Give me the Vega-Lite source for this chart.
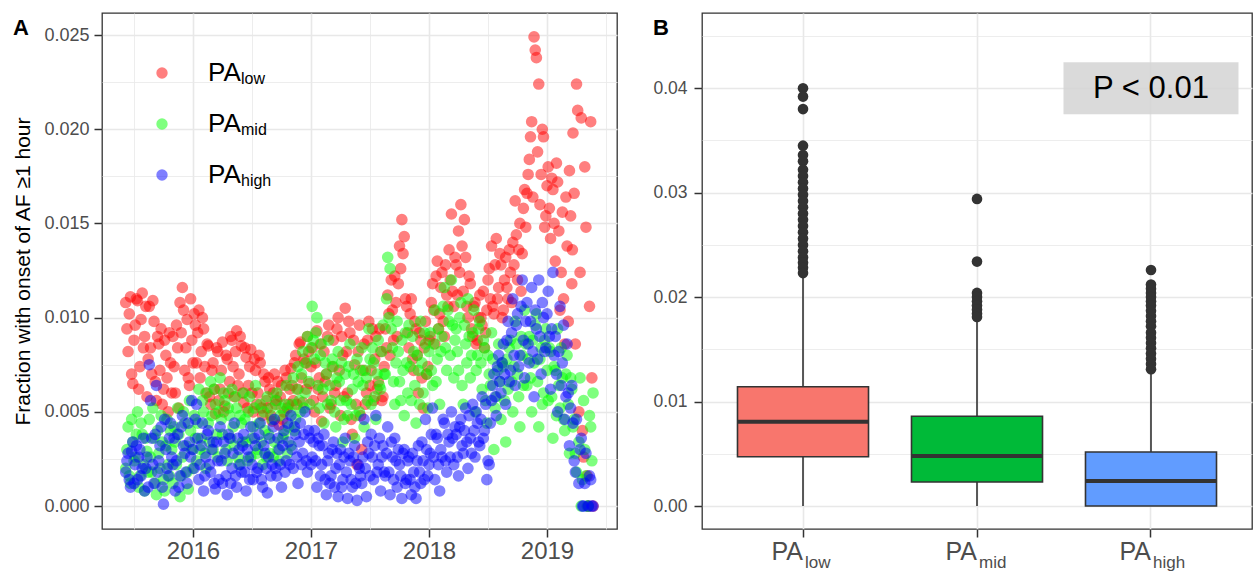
{
"$schema": "https://vega.github.io/schema/vega-lite/v6.json",
"padding": {"left": 12, "top": 12, "right": 0, "bottom": 0},
"config": {
  "font": "Liberation Sans",
  "view": {"stroke": "#333333", "strokeWidth": 1.3},
  "axis": {"domain": false, "tickColor": "#333333", "tickWidth": 1.5, "tickSize": 8, "labelColor": "#4d4d4d", "titleColor": "#000000", "titleFontWeight": "normal", "gridColor": "#e8e8e8", "labelOverlap": false, "labelFlush": false, "labelBound": false},
  "title": {"fontWeight": "bold", "fontSize": 22, "anchor": "start", "frame": "bounds", "offset": -27, "baseline": "alphabetic", "color": "#000000"}
},
"spacing": 34,
"resolve": {"scale": {"color": "independent", "shape": "independent"}, "legend": {"color": "independent", "shape": "independent"}},
"datasets": {
"scatter": [
{"t":2015.43,"s":"low","v":0.0108},{"t":2015.45,"s":"low","v":0.0082},{"t":2015.47,"s":"low","v":0.0111},{"t":2015.49,"s":"low","v":0.0065},{"t":2015.51,"s":"low","v":0.0096},{"t":2015.53,"s":"low","v":0.0109},{"t":2015.55,"s":"low","v":0.0074},{"t":2015.57,"s":"low","v":0.0113},{"t":2015.59,"s":"low","v":0.0090},{"t":2015.61,"s":"low","v":0.0058},
{"t":2015.63,"s":"low","v":0.0106},{"t":2015.65,"s":"low","v":0.0070},{"t":2015.67,"s":"low","v":0.0098},{"t":2015.69,"s":"low","v":0.0056},{"t":2015.71,"s":"low","v":0.0086},{"t":2015.73,"s":"low","v":0.0094},{"t":2015.75,"s":"low","v":0.0062},{"t":2015.77,"s":"low","v":0.0080},{"t":2015.79,"s":"low","v":0.0050},{"t":2015.81,"s":"low","v":0.0076},
{"t":2015.83,"s":"low","v":0.0090},{"t":2015.85,"s":"low","v":0.0060},{"t":2015.87,"s":"low","v":0.0084},{"t":2015.89,"s":"low","v":0.0108},{"t":2015.91,"s":"low","v":0.0116},{"t":2015.93,"s":"low","v":0.0072},{"t":2015.95,"s":"low","v":0.0099},{"t":2015.97,"s":"low","v":0.0064},{"t":2015.99,"s":"low","v":0.0088},{"t":2016.01,"s":"low","v":0.0102},
{"t":2016.03,"s":"low","v":0.0076},{"t":2016.05,"s":"low","v":0.0104},{"t":2016.07,"s":"low","v":0.0082},{"t":2016.09,"s":"low","v":0.0094},{"t":2016.11,"s":"low","v":0.0060},{"t":2016.13,"s":"low","v":0.0085},{"t":2016.15,"s":"low","v":0.0054},{"t":2016.17,"s":"low","v":0.0076},{"t":2016.19,"s":"low","v":0.0049},{"t":2016.21,"s":"low","v":0.0082},
{"t":2016.23,"s":"low","v":0.0062},{"t":2016.25,"s":"low","v":0.0087},{"t":2016.27,"s":"low","v":0.0053},{"t":2016.29,"s":"low","v":0.0078},{"t":2016.31,"s":"low","v":0.0066},{"t":2016.33,"s":"low","v":0.0088},{"t":2016.35,"s":"low","v":0.0058},{"t":2016.37,"s":"low","v":0.0093},{"t":2016.39,"s":"low","v":0.0070},{"t":2016.41,"s":"low","v":0.0085},
{"t":2016.43,"s":"low","v":0.0055},{"t":2016.45,"s":"low","v":0.0079},{"t":2016.47,"s":"low","v":0.0064},{"t":2016.49,"s":"low","v":0.0083},{"t":2016.51,"s":"low","v":0.0050},{"t":2016.53,"s":"low","v":0.0072},{"t":2016.55,"s":"low","v":0.0060},{"t":2016.57,"s":"low","v":0.0076},{"t":2016.59,"s":"low","v":0.0048},{"t":2016.61,"s":"low","v":0.0066},
{"t":2016.63,"s":"low","v":0.0052},{"t":2016.65,"s":"low","v":0.0062},{"t":2016.67,"s":"low","v":0.0045},{"t":2016.69,"s":"low","v":0.0070},{"t":2016.71,"s":"low","v":0.0056},{"t":2016.73,"s":"low","v":0.0043},{"t":2016.75,"s":"low","v":0.0064},{"t":2016.77,"s":"low","v":0.0050},{"t":2016.79,"s":"low","v":0.0068},{"t":2016.81,"s":"low","v":0.0054},
{"t":2016.83,"s":"low","v":0.0073},{"t":2016.85,"s":"low","v":0.0056},{"t":2016.87,"s":"low","v":0.0080},{"t":2016.89,"s":"low","v":0.0062},{"t":2016.91,"s":"low","v":0.0087},{"t":2016.93,"s":"low","v":0.0055},{"t":2016.95,"s":"low","v":0.0076},{"t":2016.97,"s":"low","v":0.0090},{"t":2016.99,"s":"low","v":0.0065},{"t":2017.01,"s":"low","v":0.0084},
{"t":2017.03,"s":"low","v":0.0050},{"t":2017.05,"s":"low","v":0.0093},{"t":2017.07,"s":"low","v":0.0068},{"t":2017.09,"s":"low","v":0.0045},{"t":2017.11,"s":"low","v":0.0082},{"t":2017.13,"s":"low","v":0.0070},{"t":2017.15,"s":"low","v":0.0096},{"t":2017.17,"s":"low","v":0.0054},{"t":2017.19,"s":"low","v":0.0088},{"t":2017.21,"s":"low","v":0.0064},
{"t":2017.23,"s":"low","v":0.0100},{"t":2017.25,"s":"low","v":0.0048},{"t":2017.27,"s":"low","v":0.0080},{"t":2017.29,"s":"low","v":0.0105},{"t":2017.31,"s":"low","v":0.0060},{"t":2017.33,"s":"low","v":0.0092},{"t":2017.35,"s":"low","v":0.0038},{"t":2017.37,"s":"low","v":0.0075},{"t":2017.39,"s":"low","v":0.0022},{"t":2017.41,"s":"low","v":0.0096},
{"t":2017.43,"s":"low","v":0.0030},{"t":2017.45,"s":"low","v":0.0086},{"t":2017.47,"s":"low","v":0.0060},{"t":2017.49,"s":"low","v":0.0098},{"t":2017.51,"s":"low","v":0.0072},{"t":2017.53,"s":"low","v":0.0056},{"t":2017.55,"s":"low","v":0.0090},{"t":2017.57,"s":"low","v":0.0066},{"t":2017.59,"s":"low","v":0.0082},{"t":2017.61,"s":"low","v":0.0058},
{"t":2017.63,"s":"low","v":0.0094},{"t":2017.65,"s":"low","v":0.0112},{"t":2017.67,"s":"low","v":0.0080},{"t":2017.69,"s":"low","v":0.0104},{"t":2017.71,"s":"low","v":0.0122},{"t":2017.73,"s":"low","v":0.0090},{"t":2017.75,"s":"low","v":0.0138},{"t":2017.77,"s":"low","v":0.0152},{"t":2017.79,"s":"low","v":0.0143},{"t":2017.81,"s":"low","v":0.0106},
{"t":2017.83,"s":"low","v":0.0084},{"t":2017.85,"s":"low","v":0.0110},{"t":2017.87,"s":"low","v":0.0072},{"t":2017.89,"s":"low","v":0.0094},{"t":2017.91,"s":"low","v":0.0060},{"t":2017.93,"s":"low","v":0.0088},{"t":2017.95,"s":"low","v":0.0052},{"t":2017.97,"s":"low","v":0.0098},{"t":2017.99,"s":"low","v":0.0074},{"t":2018.01,"s":"low","v":0.0090},
{"t":2018.03,"s":"low","v":0.0118},{"t":2018.05,"s":"low","v":0.0086},{"t":2018.07,"s":"low","v":0.0130},{"t":2018.09,"s":"low","v":0.0102},{"t":2018.11,"s":"low","v":0.0124},{"t":2018.13,"s":"low","v":0.0090},{"t":2018.15,"s":"low","v":0.0112},{"t":2018.17,"s":"low","v":0.0136},{"t":2018.19,"s":"low","v":0.0155},{"t":2018.21,"s":"low","v":0.0106},
{"t":2018.23,"s":"low","v":0.0128},{"t":2018.25,"s":"low","v":0.0146},{"t":2018.27,"s":"low","v":0.0160},{"t":2018.29,"s":"low","v":0.0114},{"t":2018.31,"s":"low","v":0.0132},{"t":2018.33,"s":"low","v":0.0100},{"t":2018.35,"s":"low","v":0.0118},{"t":2018.37,"s":"low","v":0.0090},{"t":2018.39,"s":"low","v":0.0108},{"t":2018.41,"s":"low","v":0.0088},
{"t":2018.43,"s":"low","v":0.0112},{"t":2018.45,"s":"low","v":0.0096},{"t":2018.47,"s":"low","v":0.0084},{"t":2018.49,"s":"low","v":0.0104},{"t":2018.51,"s":"low","v":0.0126},{"t":2018.53,"s":"low","v":0.0138},{"t":2018.55,"s":"low","v":0.0102},{"t":2018.57,"s":"low","v":0.0142},{"t":2018.59,"s":"low","v":0.0116},{"t":2018.61,"s":"low","v":0.0128},
{"t":2018.63,"s":"low","v":0.0104},{"t":2018.65,"s":"low","v":0.0132},{"t":2018.67,"s":"low","v":0.0110},{"t":2018.69,"s":"low","v":0.0124},{"t":2018.71,"s":"low","v":0.0140},{"t":2018.73,"s":"low","v":0.0162},{"t":2018.75,"s":"low","v":0.0120},{"t":2018.77,"s":"low","v":0.0150},{"t":2018.79,"s":"low","v":0.0134},{"t":2018.81,"s":"low","v":0.0168},
{"t":2018.83,"s":"low","v":0.0166},{"t":2018.85,"s":"low","v":0.0184},{"t":2018.87,"s":"low","v":0.0204},{"t":2018.89,"s":"low","v":0.0249},{"t":2018.90,"s":"low","v":0.0242},{"t":2018.91,"s":"low","v":0.0238},{"t":2018.93,"s":"low","v":0.0224},{"t":2018.95,"s":"low","v":0.0176},{"t":2018.97,"s":"low","v":0.0196},{"t":2018.99,"s":"low","v":0.0154},{"t":2019.01,"s":"low","v":0.0180},
{"t":2019.03,"s":"low","v":0.0142},{"t":2019.05,"s":"low","v":0.0168},{"t":2019.07,"s":"low","v":0.0130},{"t":2019.09,"s":"low","v":0.0172},{"t":2019.11,"s":"low","v":0.0104},{"t":2019.13,"s":"low","v":0.0156},{"t":2019.15,"s":"low","v":0.0086},{"t":2019.17,"s":"low","v":0.0138},{"t":2019.19,"s":"low","v":0.0178},{"t":2019.21,"s":"low","v":0.0118},
{"t":2019.22,"s":"low","v":0.0198},{"t":2019.23,"s":"low","v":0.0166},{"t":2019.24,"s":"low","v":0.0086},{"t":2019.25,"s":"low","v":0.0224},{"t":2019.26,"s":"low","v":0.0210},{"t":2019.27,"s":"low","v":0.0050},{"t":2019.28,"s":"low","v":0.0124},{"t":2019.29,"s":"low","v":0.0206},{"t":2019.30,"s":"low","v":0.0040},{"t":2019.31,"s":"low","v":0.0026},{"t":2019.32,"s":"low","v":0.0180},{"t":2019.33,"s":"low","v":0.0148},{"t":2019.34,"s":"low","v":0.0016},{"t":2019.35,"s":"low","v":0.0},{"t":2019.36,"s":"low","v":0.0106},{"t":2019.37,"s":"low","v":0.0204},{"t":2019.38,"s":"low","v":0.0068},{"t":2019.39,"s":"low","v":0.0},
{"t":2015.44,"s":"low","v":0.0094},{"t":2015.46,"s":"low","v":0.0102},{"t":2015.48,"s":"low","v":0.0070},{"t":2015.50,"s":"low","v":0.0088},{"t":2015.52,"s":"low","v":0.0110},{"t":2015.54,"s":"low","v":0.0062},{"t":2015.56,"s":"low","v":0.0099},{"t":2015.58,"s":"low","v":0.0084},{"t":2015.60,"s":"low","v":0.0106},{"t":2015.62,"s":"low","v":0.0078},
{"t":2015.64,"s":"low","v":0.0084},{"t":2015.66,"s":"low","v":0.0109},{"t":2015.68,"s":"low","v":0.0066},{"t":2015.70,"s":"low","v":0.0090},{"t":2015.72,"s":"low","v":0.0072},{"t":2015.74,"s":"low","v":0.0054},{"t":2015.76,"s":"low","v":0.0088},{"t":2015.78,"s":"low","v":0.0068},{"t":2015.80,"s":"low","v":0.0092},{"t":2015.82,"s":"low","v":0.0060},
{"t":2015.84,"s":"low","v":0.0074},{"t":2015.86,"s":"low","v":0.0096},{"t":2015.88,"s":"low","v":0.0052},{"t":2015.90,"s":"low","v":0.0092},{"t":2015.92,"s":"low","v":0.0104},{"t":2015.94,"s":"low","v":0.0084},{"t":2015.96,"s":"low","v":0.0068},{"t":2015.98,"s":"low","v":0.0110},{"t":2016.00,"s":"low","v":0.0076},{"t":2016.02,"s":"low","v":0.0096},
{"t":2016.04,"s":"low","v":0.0092},{"t":2016.06,"s":"low","v":0.0068},{"t":2016.08,"s":"low","v":0.0100},{"t":2016.10,"s":"low","v":0.0074},{"t":2016.12,"s":"low","v":0.0086},{"t":2016.14,"s":"low","v":0.0058},{"t":2016.16,"s":"low","v":0.0072},{"t":2016.18,"s":"low","v":0.0062},{"t":2016.20,"s":"low","v":0.0084},{"t":2016.22,"s":"low","v":0.0056},
{"t":2016.24,"s":"low","v":0.0072},{"t":2016.26,"s":"low","v":0.0050},{"t":2016.28,"s":"low","v":0.0080},{"t":2016.30,"s":"low","v":0.0060},{"t":2016.32,"s":"low","v":0.0090},{"t":2016.34,"s":"low","v":0.0074},{"t":2016.36,"s":"low","v":0.0082},{"t":2016.38,"s":"low","v":0.0064},{"t":2016.40,"s":"low","v":0.0090},{"t":2016.42,"s":"low","v":0.0060},
{"t":2016.44,"s":"low","v":0.0084},{"t":2016.46,"s":"low","v":0.0052},{"t":2016.48,"s":"low","v":0.0074},{"t":2016.50,"s":"low","v":0.0060},{"t":2016.52,"s":"low","v":0.0078},{"t":2016.54,"s":"low","v":0.0054},{"t":2016.56,"s":"low","v":0.0080},{"t":2016.58,"s":"low","v":0.0052},{"t":2016.60,"s":"low","v":0.0070},{"t":2016.62,"s":"low","v":0.0056},
{"t":2016.64,"s":"low","v":0.0068},{"t":2016.66,"s":"low","v":0.0048},{"t":2016.68,"s":"low","v":0.0060},{"t":2016.70,"s":"low","v":0.0054},{"t":2016.72,"s":"low","v":0.0066},{"t":2016.74,"s":"low","v":0.0058},{"t":2016.76,"s":"low","v":0.0046},{"t":2016.78,"s":"low","v":0.0072},{"t":2016.80,"s":"low","v":0.0052},{"t":2016.82,"s":"low","v":0.0062},
{"t":2016.84,"s":"low","v":0.0064},{"t":2016.86,"s":"low","v":0.0076},{"t":2016.88,"s":"low","v":0.0054},{"t":2016.90,"s":"low","v":0.0086},{"t":2016.92,"s":"low","v":0.0068},{"t":2016.94,"s":"low","v":0.0078},{"t":2016.96,"s":"low","v":0.0062},{"t":2016.98,"s":"low","v":0.0082},{"t":2017.00,"s":"low","v":0.0074},{"t":2017.02,"s":"low","v":0.0056},
{"t":2017.04,"s":"low","v":0.0076},{"t":2017.06,"s":"low","v":0.0062},{"t":2017.08,"s":"low","v":0.0086},{"t":2017.10,"s":"low","v":0.0058},{"t":2017.12,"s":"low","v":0.0066},{"t":2017.14,"s":"low","v":0.0090},{"t":2017.16,"s":"low","v":0.0052},{"t":2017.18,"s":"low","v":0.0074},{"t":2017.20,"s":"low","v":0.0060},{"t":2017.22,"s":"low","v":0.0094},
{"t":2017.24,"s":"low","v":0.0072},{"t":2017.26,"s":"low","v":0.0090},{"t":2017.28,"s":"low","v":0.0058},{"t":2017.30,"s":"low","v":0.0082},{"t":2017.32,"s":"low","v":0.0098},{"t":2017.34,"s":"low","v":0.0046},{"t":2017.36,"s":"low","v":0.0088},{"t":2017.38,"s":"low","v":0.0054},{"t":2017.40,"s":"low","v":0.0082},{"t":2017.42,"s":"low","v":0.0048},
{"t":2017.44,"s":"low","v":0.0072},{"t":2017.46,"s":"low","v":0.0054},{"t":2017.48,"s":"low","v":0.0088},{"t":2017.50,"s":"low","v":0.0064},{"t":2017.52,"s":"low","v":0.0094},{"t":2017.54,"s":"low","v":0.0078},{"t":2017.56,"s":"low","v":0.0062},{"t":2017.58,"s":"low","v":0.0094},{"t":2017.60,"s":"low","v":0.0056},{"t":2017.62,"s":"low","v":0.0074},
{"t":2017.64,"s":"low","v":0.0084},{"t":2017.66,"s":"low","v":0.0102},{"t":2017.68,"s":"low","v":0.0120},{"t":2017.70,"s":"low","v":0.0088},{"t":2017.72,"s":"low","v":0.0108},{"t":2017.74,"s":"low","v":0.0118},{"t":2017.76,"s":"low","v":0.0126},{"t":2017.78,"s":"low","v":0.0134},{"t":2017.80,"s":"low","v":0.0110},{"t":2017.82,"s":"low","v":0.0092},
{"t":2017.84,"s":"low","v":0.0102},{"t":2017.86,"s":"low","v":0.0078},{"t":2017.88,"s":"low","v":0.0098},{"t":2017.90,"s":"low","v":0.0080},{"t":2017.92,"s":"low","v":0.0092},{"t":2017.94,"s":"low","v":0.0068},{"t":2017.96,"s":"low","v":0.0084},{"t":2017.98,"s":"low","v":0.0070},{"t":2018.00,"s":"low","v":0.0088},{"t":2018.02,"s":"low","v":0.0108},
{"t":2018.04,"s":"low","v":0.0104},{"t":2018.06,"s":"low","v":0.0122},{"t":2018.08,"s":"low","v":0.0094},{"t":2018.10,"s":"low","v":0.0116},{"t":2018.12,"s":"low","v":0.0098},{"t":2018.14,"s":"low","v":0.0128},{"t":2018.16,"s":"low","v":0.0106},{"t":2018.18,"s":"low","v":0.0120},{"t":2018.20,"s":"low","v":0.0114},{"t":2018.22,"s":"low","v":0.0132},
{"t":2018.24,"s":"low","v":0.0112},{"t":2018.26,"s":"low","v":0.0124},{"t":2018.28,"s":"low","v":0.0138},{"t":2018.30,"s":"low","v":0.0152},{"t":2018.32,"s":"low","v":0.0106},{"t":2018.34,"s":"low","v":0.0122},{"t":2018.36,"s":"low","v":0.0094},{"t":2018.38,"s":"low","v":0.0106},{"t":2018.40,"s":"low","v":0.0086},{"t":2018.42,"s":"low","v":0.0100},
{"t":2018.44,"s":"low","v":0.0100},{"t":2018.46,"s":"low","v":0.0114},{"t":2018.48,"s":"low","v":0.0092},{"t":2018.50,"s":"low","v":0.0120},{"t":2018.52,"s":"low","v":0.0110},{"t":2018.54,"s":"low","v":0.0106},{"t":2018.56,"s":"low","v":0.0128},{"t":2018.58,"s":"low","v":0.0110},{"t":2018.60,"s":"low","v":0.0134},{"t":2018.62,"s":"low","v":0.0100},
{"t":2018.64,"s":"low","v":0.0120},{"t":2018.66,"s":"low","v":0.0116},{"t":2018.68,"s":"low","v":0.0136},{"t":2018.70,"s":"low","v":0.0108},{"t":2018.72,"s":"low","v":0.0128},{"t":2018.74,"s":"low","v":0.0144},{"t":2018.76,"s":"low","v":0.0136},{"t":2018.78,"s":"low","v":0.0114},{"t":2018.80,"s":"low","v":0.0158},{"t":2018.82,"s":"low","v":0.0148},
{"t":2018.84,"s":"low","v":0.0176},{"t":2018.86,"s":"low","v":0.0196},{"t":2018.88,"s":"low","v":0.0164},{"t":2018.92,"s":"low","v":0.0188},{"t":2018.94,"s":"low","v":0.0160},{"t":2018.96,"s":"low","v":0.0200},{"t":2018.98,"s":"low","v":0.0148},{"t":2019.00,"s":"low","v":0.0170},{"t":2019.02,"s":"low","v":0.0158},
{"t":2019.04,"s":"low","v":0.0174},{"t":2019.06,"s":"low","v":0.0150},{"t":2019.08,"s":"low","v":0.0182},{"t":2019.10,"s":"low","v":0.0146},{"t":2019.12,"s":"low","v":0.0124},{"t":2019.14,"s":"low","v":0.0110},{"t":2019.16,"s":"low","v":0.0164},{"t":2019.18,"s":"low","v":0.0098},{"t":2019.20,"s":"low","v":0.0154},{"t":2019.215,"s":"low","v":0.0136},
{"t":2015.43,"s":"mid","v":0.0020},{"t":2015.45,"s":"mid","v":0.0042},{"t":2015.47,"s":"mid","v":0.0012},{"t":2015.49,"s":"mid","v":0.0034},{"t":2015.51,"s":"mid","v":0.0026},{"t":2015.53,"s":"mid","v":0.0050},{"t":2015.55,"s":"mid","v":0.0016},{"t":2015.57,"s":"mid","v":0.0038},{"t":2015.59,"s":"mid","v":0.0008},{"t":2015.61,"s":"mid","v":0.0029},
{"t":2015.63,"s":"mid","v":0.0046},{"t":2015.65,"s":"mid","v":0.0018},{"t":2015.67,"s":"mid","v":0.0036},{"t":2015.69,"s":"mid","v":0.0006},{"t":2015.71,"s":"mid","v":0.0028},{"t":2015.73,"s":"mid","v":0.0048},{"t":2015.75,"s":"mid","v":0.0014},{"t":2015.77,"s":"mid","v":0.0032},{"t":2015.79,"s":"mid","v":0.0022},{"t":2015.81,"s":"mid","v":0.0040},
{"t":2015.83,"s":"mid","v":0.0012},{"t":2015.85,"s":"mid","v":0.0034},{"t":2015.87,"s":"mid","v":0.0052},{"t":2015.89,"s":"mid","v":0.0005},{"t":2015.91,"s":"mid","v":0.0026},{"t":2015.93,"s":"mid","v":0.0044},{"t":2015.95,"s":"mid","v":0.0018},{"t":2015.97,"s":"mid","v":0.0056},{"t":2015.99,"s":"mid","v":0.0030},{"t":2016.01,"s":"mid","v":0.0048},
{"t":2016.03,"s":"mid","v":0.0024},{"t":2016.05,"s":"mid","v":0.0062},{"t":2016.07,"s":"mid","v":0.0036},{"t":2016.09,"s":"mid","v":0.0050},{"t":2016.11,"s":"mid","v":0.0020},{"t":2016.13,"s":"mid","v":0.0044},{"t":2016.15,"s":"mid","v":0.0066},{"t":2016.17,"s":"mid","v":0.0030},{"t":2016.19,"s":"mid","v":0.0054},{"t":2016.21,"s":"mid","v":0.0026},
{"t":2016.23,"s":"mid","v":0.0068},{"t":2016.25,"s":"mid","v":0.0038},{"t":2016.27,"s":"mid","v":0.0056},{"t":2016.29,"s":"mid","v":0.0024},{"t":2016.31,"s":"mid","v":0.0048},{"t":2016.33,"s":"mid","v":0.0062},{"t":2016.35,"s":"mid","v":0.0032},{"t":2016.37,"s":"mid","v":0.0052},{"t":2016.39,"s":"mid","v":0.0022},{"t":2016.41,"s":"mid","v":0.0044},
{"t":2016.43,"s":"mid","v":0.0060},{"t":2016.45,"s":"mid","v":0.0034},{"t":2016.47,"s":"mid","v":0.0050},{"t":2016.49,"s":"mid","v":0.0026},{"t":2016.51,"s":"mid","v":0.0042},{"t":2016.53,"s":"mid","v":0.0064},{"t":2016.55,"s":"mid","v":0.0030},{"t":2016.57,"s":"mid","v":0.0054},{"t":2016.59,"s":"mid","v":0.0022},{"t":2016.61,"s":"mid","v":0.0040},
{"t":2016.63,"s":"mid","v":0.0058},{"t":2016.65,"s":"mid","v":0.0028},{"t":2016.67,"s":"mid","v":0.0046},{"t":2016.69,"s":"mid","v":0.0034},{"t":2016.71,"s":"mid","v":0.0060},{"t":2016.73,"s":"mid","v":0.0024},{"t":2016.75,"s":"mid","v":0.0052},{"t":2016.77,"s":"mid","v":0.0038},{"t":2016.79,"s":"mid","v":0.0064},{"t":2016.81,"s":"mid","v":0.0042},
{"t":2016.83,"s":"mid","v":0.0032},{"t":2016.85,"s":"mid","v":0.0068},{"t":2016.87,"s":"mid","v":0.0046},{"t":2016.89,"s":"mid","v":0.0074},{"t":2016.91,"s":"mid","v":0.0050},{"t":2016.93,"s":"mid","v":0.0082},{"t":2016.95,"s":"mid","v":0.0060},{"t":2016.97,"s":"mid","v":0.0090},{"t":2016.99,"s":"mid","v":0.0054},{"t":2017.01,"s":"mid","v":0.0106},
{"t":2017.03,"s":"mid","v":0.0078},{"t":2017.05,"s":"mid","v":0.0100},{"t":2017.07,"s":"mid","v":0.0052},{"t":2017.09,"s":"mid","v":0.0086},{"t":2017.11,"s":"mid","v":0.0044},{"t":2017.13,"s":"mid","v":0.0070},{"t":2017.15,"s":"mid","v":0.0088},{"t":2017.17,"s":"mid","v":0.0056},{"t":2017.19,"s":"mid","v":0.0074},{"t":2017.21,"s":"mid","v":0.0042},
{"t":2017.23,"s":"mid","v":0.0082},{"t":2017.25,"s":"mid","v":0.0056},{"t":2017.27,"s":"mid","v":0.0034},{"t":2017.29,"s":"mid","v":0.0070},{"t":2017.31,"s":"mid","v":0.0048},{"t":2017.33,"s":"mid","v":0.0086},{"t":2017.35,"s":"mid","v":0.0062},{"t":2017.37,"s":"mid","v":0.0036},{"t":2017.39,"s":"mid","v":0.0078},{"t":2017.41,"s":"mid","v":0.0050},
{"t":2017.43,"s":"mid","v":0.0084},{"t":2017.45,"s":"mid","v":0.0042},{"t":2017.47,"s":"mid","v":0.0068},{"t":2017.49,"s":"mid","v":0.0094},{"t":2017.51,"s":"mid","v":0.0054},{"t":2017.53,"s":"mid","v":0.0076},{"t":2017.55,"s":"mid","v":0.0046},{"t":2017.57,"s":"mid","v":0.0088},{"t":2017.59,"s":"mid","v":0.0062},{"t":2017.61,"s":"mid","v":0.0096},
{"t":2017.63,"s":"mid","v":0.0070},{"t":2017.65,"s":"mid","v":0.0132},{"t":2017.67,"s":"mid","v":0.0126},{"t":2017.69,"s":"mid","v":0.0084},{"t":2017.71,"s":"mid","v":0.0054},{"t":2017.73,"s":"mid","v":0.0098},{"t":2017.75,"s":"mid","v":0.0066},{"t":2017.77,"s":"mid","v":0.0088},{"t":2017.79,"s":"mid","v":0.0048},{"t":2017.81,"s":"mid","v":0.0076},
{"t":2017.83,"s":"mid","v":0.0096},{"t":2017.85,"s":"mid","v":0.0056},{"t":2017.87,"s":"mid","v":0.0082},{"t":2017.89,"s":"mid","v":0.0044},{"t":2017.91,"s":"mid","v":0.0072},{"t":2017.93,"s":"mid","v":0.0098},{"t":2017.95,"s":"mid","v":0.0060},{"t":2017.97,"s":"mid","v":0.0086},{"t":2017.99,"s":"mid","v":0.0052},{"t":2018.01,"s":"mid","v":0.0092},
{"t":2018.03,"s":"mid","v":0.0064},{"t":2018.05,"s":"mid","v":0.0104},{"t":2018.07,"s":"mid","v":0.0078},{"t":2018.09,"s":"mid","v":0.0054},{"t":2018.11,"s":"mid","v":0.0090},{"t":2018.13,"s":"mid","v":0.0116},{"t":2018.15,"s":"mid","v":0.0072},{"t":2018.17,"s":"mid","v":0.0098},{"t":2018.19,"s":"mid","v":0.0120},{"t":2018.21,"s":"mid","v":0.0068},
{"t":2018.23,"s":"mid","v":0.0094},{"t":2018.25,"s":"mid","v":0.0072},{"t":2018.27,"s":"mid","v":0.0108},{"t":2018.29,"s":"mid","v":0.0054},{"t":2018.31,"s":"mid","v":0.0086},{"t":2018.33,"s":"mid","v":0.0110},{"t":2018.35,"s":"mid","v":0.0068},{"t":2018.37,"s":"mid","v":0.0092},{"t":2018.39,"s":"mid","v":0.0050},{"t":2018.41,"s":"mid","v":0.0080},
{"t":2018.43,"s":"mid","v":0.0098},{"t":2018.45,"s":"mid","v":0.0062},{"t":2018.47,"s":"mid","v":0.0084},{"t":2018.49,"s":"mid","v":0.0044},{"t":2018.51,"s":"mid","v":0.0070},{"t":2018.53,"s":"mid","v":0.0092},{"t":2018.55,"s":"mid","v":0.0030},{"t":2018.57,"s":"mid","v":0.0058},{"t":2018.59,"s":"mid","v":0.0086},{"t":2018.61,"s":"mid","v":0.0046},
{"t":2018.63,"s":"mid","v":0.0074},{"t":2018.65,"s":"mid","v":0.0034},{"t":2018.67,"s":"mid","v":0.0062},{"t":2018.69,"s":"mid","v":0.0088},{"t":2018.71,"s":"mid","v":0.0050},{"t":2018.73,"s":"mid","v":0.0098},{"t":2018.75,"s":"mid","v":0.0070},{"t":2018.77,"s":"mid","v":0.0042},{"t":2018.79,"s":"mid","v":0.0080},{"t":2018.81,"s":"mid","v":0.0104},
{"t":2018.83,"s":"mid","v":0.0064},{"t":2018.85,"s":"mid","v":0.0090},{"t":2018.87,"s":"mid","v":0.0050},{"t":2018.89,"s":"mid","v":0.0076},{"t":2018.91,"s":"mid","v":0.0102},{"t":2018.93,"s":"mid","v":0.0042},{"t":2018.95,"s":"mid","v":0.0084},{"t":2018.97,"s":"mid","v":0.0060},{"t":2018.99,"s":"mid","v":0.0094},{"t":2019.01,"s":"mid","v":0.0056},
{"t":2019.03,"s":"mid","v":0.0082},{"t":2019.05,"s":"mid","v":0.0036},{"t":2019.07,"s":"mid","v":0.0072},{"t":2019.09,"s":"mid","v":0.0094},{"t":2019.11,"s":"mid","v":0.0052},{"t":2019.13,"s":"mid","v":0.0068},{"t":2019.15,"s":"mid","v":0.0040},{"t":2019.17,"s":"mid","v":0.0080},{"t":2019.19,"s":"mid","v":0.0028},{"t":2019.21,"s":"mid","v":0.0062},
{"t":2019.23,"s":"mid","v":0.0046},{"t":2019.24,"s":"mid","v":0.0028},{"t":2019.25,"s":"mid","v":0.0018},{"t":2019.27,"s":"mid","v":0.0034},{"t":2019.28,"s":"mid","v":0.0068},{"t":2019.29,"s":"mid","v":0.0},{"t":2019.30,"s":"mid","v":0.0014},{"t":2019.31,"s":"mid","v":0.0056},{"t":2019.32,"s":"mid","v":0.0030},{"t":2019.33,"s":"mid","v":0.0016},{"t":2019.34,"s":"mid","v":0.0},{"t":2019.35,"s":"mid","v":0.0},{"t":2019.36,"s":"mid","v":0.0048},{"t":2019.37,"s":"mid","v":0.0042},{"t":2019.38,"s":"mid","v":0.0024},{"t":2019.39,"s":"mid","v":0.0060},
{"t":2015.44,"s":"mid","v":0.0030},{"t":2015.46,"s":"mid","v":0.0016},{"t":2015.48,"s":"mid","v":0.0046},{"t":2015.50,"s":"mid","v":0.0024},{"t":2015.52,"s":"mid","v":0.0038},{"t":2015.54,"s":"mid","v":0.0010},{"t":2015.56,"s":"mid","v":0.0044},{"t":2015.58,"s":"mid","v":0.0022},{"t":2015.60,"s":"mid","v":0.0036},{"t":2015.62,"s":"mid","v":0.0018},
{"t":2015.64,"s":"mid","v":0.0026},{"t":2015.66,"s":"mid","v":0.0052},{"t":2015.68,"s":"mid","v":0.0012},{"t":2015.70,"s":"mid","v":0.0040},{"t":2015.72,"s":"mid","v":0.0020},{"t":2015.74,"s":"mid","v":0.0034},{"t":2015.76,"s":"mid","v":0.0008},{"t":2015.78,"s":"mid","v":0.0046},{"t":2015.80,"s":"mid","v":0.0016},{"t":2015.82,"s":"mid","v":0.0030},
{"t":2015.84,"s":"mid","v":0.0042},{"t":2015.86,"s":"mid","v":0.0022},{"t":2015.88,"s":"mid","v":0.0038},{"t":2015.90,"s":"mid","v":0.0016},{"t":2015.92,"s":"mid","v":0.0050},{"t":2015.94,"s":"mid","v":0.0032},{"t":2015.96,"s":"mid","v":0.0009},{"t":2015.98,"s":"mid","v":0.0040},{"t":2016.00,"s":"mid","v":0.0020},{"t":2016.02,"s":"mid","v":0.0036},
{"t":2016.04,"s":"mid","v":0.0044},{"t":2016.06,"s":"mid","v":0.0030},{"t":2016.08,"s":"mid","v":0.0056},{"t":2016.10,"s":"mid","v":0.0028},{"t":2016.12,"s":"mid","v":0.0060},{"t":2016.14,"s":"mid","v":0.0034},{"t":2016.16,"s":"mid","v":0.0048},{"t":2016.18,"s":"mid","v":0.0062},{"t":2016.20,"s":"mid","v":0.0038},{"t":2016.22,"s":"mid","v":0.0050},
{"t":2016.24,"s":"mid","v":0.0046},{"t":2016.26,"s":"mid","v":0.0060},{"t":2016.28,"s":"mid","v":0.0030},{"t":2016.30,"s":"mid","v":0.0052},{"t":2016.32,"s":"mid","v":0.0036},{"t":2016.34,"s":"mid","v":0.0042},{"t":2016.36,"s":"mid","v":0.0058},{"t":2016.38,"s":"mid","v":0.0026},{"t":2016.40,"s":"mid","v":0.0048},{"t":2016.42,"s":"mid","v":0.0034},
{"t":2016.44,"s":"mid","v":0.0046},{"t":2016.46,"s":"mid","v":0.0024},{"t":2016.48,"s":"mid","v":0.0058},{"t":2016.50,"s":"mid","v":0.0036},{"t":2016.52,"s":"mid","v":0.0052},{"t":2016.54,"s":"mid","v":0.0028},{"t":2016.56,"s":"mid","v":0.0044},{"t":2016.58,"s":"mid","v":0.0034},{"t":2016.60,"s":"mid","v":0.0050},{"t":2016.62,"s":"mid","v":0.0026},
{"t":2016.64,"s":"mid","v":0.0038},{"t":2016.66,"s":"mid","v":0.0052},{"t":2016.68,"s":"mid","v":0.0026},{"t":2016.70,"s":"mid","v":0.0056},{"t":2016.72,"s":"mid","v":0.0030},{"t":2016.74,"s":"mid","v":0.0048},{"t":2016.76,"s":"mid","v":0.0036},{"t":2016.78,"s":"mid","v":0.0054},{"t":2016.80,"s":"mid","v":0.0028},{"t":2016.82,"s":"mid","v":0.0050},
{"t":2016.84,"s":"mid","v":0.0054},{"t":2016.86,"s":"mid","v":0.0040},{"t":2016.88,"s":"mid","v":0.0062},{"t":2016.90,"s":"mid","v":0.0056},{"t":2016.92,"s":"mid","v":0.0070},{"t":2016.94,"s":"mid","v":0.0052},{"t":2016.96,"s":"mid","v":0.0076},{"t":2016.98,"s":"mid","v":0.0066},{"t":2017.00,"s":"mid","v":0.0084},{"t":2017.02,"s":"mid","v":0.0088},
{"t":2017.04,"s":"mid","v":0.0092},{"t":2017.06,"s":"mid","v":0.0064},{"t":2017.08,"s":"mid","v":0.0080},{"t":2017.10,"s":"mid","v":0.0062},{"t":2017.12,"s":"mid","v":0.0076},{"t":2017.14,"s":"mid","v":0.0054},{"t":2017.16,"s":"mid","v":0.0064},{"t":2017.18,"s":"mid","v":0.0078},{"t":2017.20,"s":"mid","v":0.0050},{"t":2017.22,"s":"mid","v":0.0068},
{"t":2017.24,"s":"mid","v":0.0066},{"t":2017.26,"s":"mid","v":0.0076},{"t":2017.28,"s":"mid","v":0.0046},{"t":2017.30,"s":"mid","v":0.0056},{"t":2017.32,"s":"mid","v":0.0074},{"t":2017.34,"s":"mid","v":0.0054},{"t":2017.36,"s":"mid","v":0.0070},{"t":2017.38,"s":"mid","v":0.0048},{"t":2017.40,"s":"mid","v":0.0066},{"t":2017.42,"s":"mid","v":0.0072},
{"t":2017.44,"s":"mid","v":0.0064},{"t":2017.46,"s":"mid","v":0.0072},{"t":2017.48,"s":"mid","v":0.0056},{"t":2017.50,"s":"mid","v":0.0078},{"t":2017.52,"s":"mid","v":0.0084},{"t":2017.54,"s":"mid","v":0.0058},{"t":2017.56,"s":"mid","v":0.0070},{"t":2017.58,"s":"mid","v":0.0064},{"t":2017.60,"s":"mid","v":0.0082},{"t":2017.62,"s":"mid","v":0.0070},
{"t":2017.64,"s":"mid","v":0.0110},{"t":2017.66,"s":"mid","v":0.0100},{"t":2017.68,"s":"mid","v":0.0094},{"t":2017.70,"s":"mid","v":0.0066},{"t":2017.72,"s":"mid","v":0.0076},{"t":2017.74,"s":"mid","v":0.0082},{"t":2017.76,"s":"mid","v":0.0056},{"t":2017.78,"s":"mid","v":0.0072},{"t":2017.80,"s":"mid","v":0.0092},{"t":2017.82,"s":"mid","v":0.0060},
{"t":2017.84,"s":"mid","v":0.0074},{"t":2017.86,"s":"mid","v":0.0090},{"t":2017.88,"s":"mid","v":0.0064},{"t":2017.90,"s":"mid","v":0.0080},{"t":2017.92,"s":"mid","v":0.0054},{"t":2017.94,"s":"mid","v":0.0076},{"t":2017.96,"s":"mid","v":0.0092},{"t":2017.98,"s":"mid","v":0.0070},{"t":2018.00,"s":"mid","v":0.0082},{"t":2018.02,"s":"mid","v":0.0072},
{"t":2018.04,"s":"mid","v":0.0086},{"t":2018.06,"s":"mid","v":0.0066},{"t":2018.08,"s":"mid","v":0.0094},{"t":2018.10,"s":"mid","v":0.0082},{"t":2018.12,"s":"mid","v":0.0106},{"t":2018.14,"s":"mid","v":0.0084},{"t":2018.16,"s":"mid","v":0.0104},{"t":2018.18,"s":"mid","v":0.0080},{"t":2018.20,"s":"mid","v":0.0096},{"t":2018.22,"s":"mid","v":0.0088},
{"t":2018.24,"s":"mid","v":0.0082},{"t":2018.26,"s":"mid","v":0.0100},{"t":2018.28,"s":"mid","v":0.0064},{"t":2018.30,"s":"mid","v":0.0096},{"t":2018.32,"s":"mid","v":0.0076},{"t":2018.34,"s":"mid","v":0.0090},{"t":2018.36,"s":"mid","v":0.0080},{"t":2018.38,"s":"mid","v":0.0104},{"t":2018.40,"s":"mid","v":0.0072},{"t":2018.42,"s":"mid","v":0.0094},
{"t":2018.44,"s":"mid","v":0.0076},{"t":2018.46,"s":"mid","v":0.0088},{"t":2018.48,"s":"mid","v":0.0056},{"t":2018.50,"s":"mid","v":0.0080},{"t":2018.52,"s":"mid","v":0.0064},{"t":2018.54,"s":"mid","v":0.0078},{"t":2018.56,"s":"mid","v":0.0052},{"t":2018.58,"s":"mid","v":0.0072},{"t":2018.60,"s":"mid","v":0.0066},{"t":2018.62,"s":"mid","v":0.0076},
{"t":2018.64,"s":"mid","v":0.0056},{"t":2018.66,"s":"mid","v":0.0078},{"t":2018.68,"s":"mid","v":0.0084},{"t":2018.70,"s":"mid","v":0.0066},{"t":2018.72,"s":"mid","v":0.0074},{"t":2018.74,"s":"mid","v":0.0086},{"t":2018.76,"s":"mid","v":0.0058},{"t":2018.78,"s":"mid","v":0.0090},{"t":2018.80,"s":"mid","v":0.0064},{"t":2018.82,"s":"mid","v":0.0086},
{"t":2018.84,"s":"mid","v":0.0078},{"t":2018.86,"s":"mid","v":0.0068},{"t":2018.88,"s":"mid","v":0.0088},{"t":2018.90,"s":"mid","v":0.0096},{"t":2018.92,"s":"mid","v":0.0066},{"t":2018.94,"s":"mid","v":0.0078},{"t":2018.96,"s":"mid","v":0.0054},{"t":2018.98,"s":"mid","v":0.0088},{"t":2019.00,"s":"mid","v":0.0072},{"t":2019.02,"s":"mid","v":0.0084},
{"t":2019.04,"s":"mid","v":0.0058},{"t":2019.06,"s":"mid","v":0.0074},{"t":2019.08,"s":"mid","v":0.0048},{"t":2019.10,"s":"mid","v":0.0064},{"t":2019.12,"s":"mid","v":0.0084},{"t":2019.14,"s":"mid","v":0.0046},{"t":2019.16,"s":"mid","v":0.0070},{"t":2019.18,"s":"mid","v":0.0054},{"t":2019.20,"s":"mid","v":0.0068},{"t":2019.22,"s":"mid","v":0.0042},
{"t":2015.43,"s":"high","v":0.0018},{"t":2015.45,"s":"high","v":0.0028},{"t":2015.47,"s":"high","v":0.0010},{"t":2015.49,"s":"high","v":0.0034},{"t":2015.51,"s":"high","v":0.0022},{"t":2015.53,"s":"high","v":0.0014},{"t":2015.55,"s":"high","v":0.0030},{"t":2015.57,"s":"high","v":0.0020},{"t":2015.59,"s":"high","v":0.0008},{"t":2015.61,"s":"high","v":0.0026},
{"t":2015.63,"s":"high","v":0.0075},{"t":2015.65,"s":"high","v":0.0036},{"t":2015.67,"s":"high","v":0.0012},{"t":2015.69,"s":"high","v":0.0064},{"t":2015.71,"s":"high","v":0.0024},{"t":2015.73,"s":"high","v":0.0042},{"t":2015.75,"s":"high","v":0.0001},{"t":2015.77,"s":"high","v":0.0030},{"t":2015.79,"s":"high","v":0.0016},{"t":2015.81,"s":"high","v":0.0044},
{"t":2015.83,"s":"high","v":0.0022},{"t":2015.85,"s":"high","v":0.0008},{"t":2015.87,"s":"high","v":0.0038},{"t":2015.89,"s":"high","v":0.0016},{"t":2015.91,"s":"high","v":0.0048},{"t":2015.93,"s":"high","v":0.0028},{"t":2015.95,"s":"high","v":0.0012},{"t":2015.97,"s":"high","v":0.0034},{"t":2015.99,"s":"high","v":0.0056},{"t":2016.01,"s":"high","v":0.0020},
{"t":2016.03,"s":"high","v":0.0054},{"t":2016.05,"s":"high","v":0.0014},{"t":2016.07,"s":"high","v":0.0032},{"t":2016.09,"s":"high","v":0.0008},{"t":2016.11,"s":"high","v":0.0026},{"t":2016.13,"s":"high","v":0.0040},{"t":2016.15,"s":"high","v":0.0018},{"t":2016.17,"s":"high","v":0.0034},{"t":2016.19,"s":"high","v":0.0009},{"t":2016.21,"s":"high","v":0.0024},
{"t":2016.23,"s":"high","v":0.0042},{"t":2016.25,"s":"high","v":0.0012},{"t":2016.27,"s":"high","v":0.0028},{"t":2016.29,"s":"high","v":0.0006},{"t":2016.31,"s":"high","v":0.0036},{"t":2016.33,"s":"high","v":0.0020},{"t":2016.35,"s":"high","v":0.0044},{"t":2016.37,"s":"high","v":0.0010},{"t":2016.39,"s":"high","v":0.0030},{"t":2016.41,"s":"high","v":0.0018},
{"t":2016.43,"s":"high","v":0.0038},{"t":2016.45,"s":"high","v":0.0008},{"t":2016.47,"s":"high","v":0.0026},{"t":2016.49,"s":"high","v":0.0042},{"t":2016.51,"s":"high","v":0.0014},{"t":2016.53,"s":"high","v":0.0032},{"t":2016.55,"s":"high","v":0.0020},{"t":2016.57,"s":"high","v":0.0044},{"t":2016.59,"s":"high","v":0.0010},{"t":2016.61,"s":"high","v":0.0028},
{"t":2016.63,"s":"high","v":0.0007},{"t":2016.65,"s":"high","v":0.0036},{"t":2016.67,"s":"high","v":0.0022},{"t":2016.69,"s":"high","v":0.0046},{"t":2016.71,"s":"high","v":0.0016},{"t":2016.73,"s":"high","v":0.0030},{"t":2016.75,"s":"high","v":0.0010},{"t":2016.77,"s":"high","v":0.0040},{"t":2016.79,"s":"high","v":0.0024},{"t":2016.81,"s":"high","v":0.0034},
{"t":2016.83,"s":"high","v":0.0048},{"t":2016.85,"s":"high","v":0.0020},{"t":2016.87,"s":"high","v":0.0038},{"t":2016.89,"s":"high","v":0.0012},{"t":2016.91,"s":"high","v":0.0044},{"t":2016.93,"s":"high","v":0.0028},{"t":2016.95,"s":"high","v":0.0050},{"t":2016.97,"s":"high","v":0.0018},{"t":2016.99,"s":"high","v":0.0036},{"t":2017.01,"s":"high","v":0.0026},
{"t":2017.03,"s":"high","v":0.0040},{"t":2017.05,"s":"high","v":0.0010},{"t":2017.07,"s":"high","v":0.0032},{"t":2017.09,"s":"high","v":0.0022},{"t":2017.11,"s":"high","v":0.0038},{"t":2017.13,"s":"high","v":0.0006},{"t":2017.15,"s":"high","v":0.0028},{"t":2017.17,"s":"high","v":0.0016},{"t":2017.19,"s":"high","v":0.0034},{"t":2017.21,"s":"high","v":0.0020},
{"t":2017.23,"s":"high","v":0.0005},{"t":2017.25,"s":"high","v":0.0030},{"t":2017.27,"s":"high","v":0.0014},{"t":2017.29,"s":"high","v":0.0036},{"t":2017.31,"s":"high","v":0.0004},{"t":2017.33,"s":"high","v":0.0024},{"t":2017.35,"s":"high","v":0.0010},{"t":2017.37,"s":"high","v":0.0032},{"t":2017.39,"s":"high","v":0.0003},{"t":2017.41,"s":"high","v":0.0020},
{"t":2017.43,"s":"high","v":0.0012},{"t":2017.45,"s":"high","v":0.0046},{"t":2017.47,"s":"high","v":0.0005},{"t":2017.49,"s":"high","v":0.0028},{"t":2017.51,"s":"high","v":0.0038},{"t":2017.53,"s":"high","v":0.0014},{"t":2017.55,"s":"high","v":0.0048},{"t":2017.57,"s":"high","v":0.0022},{"t":2017.59,"s":"high","v":0.0008},{"t":2017.61,"s":"high","v":0.0032},
{"t":2017.63,"s":"high","v":0.0016},{"t":2017.65,"s":"high","v":0.0042},{"t":2017.67,"s":"high","v":0.0006},{"t":2017.69,"s":"high","v":0.0026},{"t":2017.71,"s":"high","v":0.0036},{"t":2017.73,"s":"high","v":0.0010},{"t":2017.75,"s":"high","v":0.0022},{"t":2017.77,"s":"high","v":0.0004},{"t":2017.79,"s":"high","v":0.0030},{"t":2017.81,"s":"high","v":0.0014},
{"t":2017.83,"s":"high","v":0.0026},{"t":2017.85,"s":"high","v":0.0006},{"t":2017.87,"s":"high","v":0.0018},{"t":2017.89,"s":"high","v":0.0004},{"t":2017.91,"s":"high","v":0.0032},{"t":2017.93,"s":"high","v":0.0012},{"t":2017.95,"s":"high","v":0.0024},{"t":2017.97,"s":"high","v":0.0046},{"t":2017.99,"s":"high","v":0.0016},{"t":2018.01,"s":"high","v":0.0028},
{"t":2018.03,"s":"high","v":0.0052},{"t":2018.05,"s":"high","v":0.0014},{"t":2018.07,"s":"high","v":0.0036},{"t":2018.09,"s":"high","v":0.0008},{"t":2018.11,"s":"high","v":0.0026},{"t":2018.13,"s":"high","v":0.0044},{"t":2018.15,"s":"high","v":0.0018},{"t":2018.17,"s":"high","v":0.0034},{"t":2018.19,"s":"high","v":0.0050},{"t":2018.21,"s":"high","v":0.0022},
{"t":2018.23,"s":"high","v":0.0038},{"t":2018.25,"s":"high","v":0.0016},{"t":2018.27,"s":"high","v":0.0046},{"t":2018.29,"s":"high","v":0.0028},{"t":2018.31,"s":"high","v":0.0052},{"t":2018.33,"s":"high","v":0.0020},{"t":2018.35,"s":"high","v":0.0036},{"t":2018.37,"s":"high","v":0.0054},{"t":2018.39,"s":"high","v":0.0026},{"t":2018.41,"s":"high","v":0.0044},
{"t":2018.43,"s":"high","v":0.0032},{"t":2018.45,"s":"high","v":0.0058},{"t":2018.47,"s":"high","v":0.0040},{"t":2018.49,"s":"high","v":0.0014},{"t":2018.51,"s":"high","v":0.0022},{"t":2018.53,"s":"high","v":0.0056},{"t":2018.55,"s":"high","v":0.0070},{"t":2018.57,"s":"high","v":0.0048},{"t":2018.59,"s":"high","v":0.0080},{"t":2018.61,"s":"high","v":0.0060},
{"t":2018.63,"s":"high","v":0.0086},{"t":2018.65,"s":"high","v":0.0054},{"t":2018.67,"s":"high","v":0.0098},{"t":2018.69,"s":"high","v":0.0072},{"t":2018.71,"s":"high","v":0.0110},{"t":2018.73,"s":"high","v":0.0064},{"t":2018.75,"s":"high","v":0.0102},{"t":2018.77,"s":"high","v":0.0080},{"t":2018.79,"s":"high","v":0.0120},{"t":2018.81,"s":"high","v":0.0068},
{"t":2018.83,"s":"high","v":0.0108},{"t":2018.85,"s":"high","v":0.0076},{"t":2018.87,"s":"high","v":0.0116},{"t":2018.89,"s":"high","v":0.0058},{"t":2018.91,"s":"high","v":0.0094},{"t":2018.93,"s":"high","v":0.0120},{"t":2018.95,"s":"high","v":0.0070},{"t":2018.97,"s":"high","v":0.0100},{"t":2018.99,"s":"high","v":0.0084},{"t":2019.01,"s":"high","v":0.0114},
{"t":2019.03,"s":"high","v":0.0062},{"t":2019.05,"s":"high","v":0.0124},{"t":2019.07,"s":"high","v":0.0090},{"t":2019.09,"s":"high","v":0.0050},{"t":2019.11,"s":"high","v":0.0106},{"t":2019.13,"s":"high","v":0.0076},{"t":2019.15,"s":"high","v":0.0046},{"t":2019.17,"s":"high","v":0.0086},{"t":2019.19,"s":"high","v":0.0032},{"t":2019.21,"s":"high","v":0.0064},
{"t":2019.23,"s":"high","v":0.0024},{"t":2019.24,"s":"high","v":0.0018},{"t":2019.25,"s":"high","v":0.0046},{"t":2019.27,"s":"high","v":0.0012},{"t":2019.28,"s":"high","v":0.0030},{"t":2019.29,"s":"high","v":0.0036},{"t":2019.30,"s":"high","v":0.0},{"t":2019.31,"s":"high","v":0.0},{"t":2019.32,"s":"high","v":0.0012},{"t":2019.33,"s":"high","v":0.0028},{"t":2019.35,"s":"high","v":0.0},{"t":2019.36,"s":"high","v":0.0016},{"t":2019.37,"s":"high","v":0.0014},{"t":2019.38,"s":"high","v":0.0},{"t":2019.39,"s":"high","v":0.0},
{"t":2015.44,"s":"high","v":0.0024},{"t":2015.46,"s":"high","v":0.0014},{"t":2015.48,"s":"high","v":0.0029},{"t":2015.50,"s":"high","v":0.0012},{"t":2015.52,"s":"high","v":0.0032},{"t":2015.54,"s":"high","v":0.0026},{"t":2015.56,"s":"high","v":0.0016},{"t":2015.58,"s":"high","v":0.0036},{"t":2015.60,"s":"high","v":0.0020},{"t":2015.62,"s":"high","v":0.0010},
{"t":2015.64,"s":"high","v":0.0056},{"t":2015.66,"s":"high","v":0.0022},{"t":2015.68,"s":"high","v":0.0038},{"t":2015.70,"s":"high","v":0.0018},{"t":2015.72,"s":"high","v":0.0032},{"t":2015.74,"s":"high","v":0.0010},{"t":2015.76,"s":"high","v":0.0046},{"t":2015.78,"s":"high","v":0.0020},{"t":2015.80,"s":"high","v":0.0036},{"t":2015.82,"s":"high","v":0.0026},
{"t":2015.84,"s":"high","v":0.0036},{"t":2015.86,"s":"high","v":0.0024},{"t":2015.88,"s":"high","v":0.0010},{"t":2015.90,"s":"high","v":0.0042},{"t":2015.92,"s":"high","v":0.0032},{"t":2015.94,"s":"high","v":0.0018},{"t":2015.96,"s":"high","v":0.0044},{"t":2015.98,"s":"high","v":0.0026},{"t":2016.00,"s":"high","v":0.0030},{"t":2016.02,"s":"high","v":0.0046},
{"t":2016.04,"s":"high","v":0.0036},{"t":2016.06,"s":"high","v":0.0022},{"t":2016.08,"s":"high","v":0.0044},{"t":2016.10,"s":"high","v":0.0016},{"t":2016.12,"s":"high","v":0.0038},{"t":2016.14,"s":"high","v":0.0022},{"t":2016.16,"s":"high","v":0.0030},{"t":2016.18,"s":"high","v":0.0012},{"t":2016.20,"s":"high","v":0.0034},{"t":2016.22,"s":"high","v":0.0014},
{"t":2016.24,"s":"high","v":0.0024},{"t":2016.26,"s":"high","v":0.0034},{"t":2016.28,"s":"high","v":0.0016},{"t":2016.30,"s":"high","v":0.0038},{"t":2016.32,"s":"high","v":0.0012},{"t":2016.34,"s":"high","v":0.0028},{"t":2016.36,"s":"high","v":0.0016},{"t":2016.38,"s":"high","v":0.0036},{"t":2016.40,"s":"high","v":0.0022},{"t":2016.42,"s":"high","v":0.0032},
{"t":2016.44,"s":"high","v":0.0018},{"t":2016.46,"s":"high","v":0.0030},{"t":2016.48,"s":"high","v":0.0014},{"t":2016.50,"s":"high","v":0.0022},{"t":2016.52,"s":"high","v":0.0036},{"t":2016.54,"s":"high","v":0.0018},{"t":2016.56,"s":"high","v":0.0038},{"t":2016.58,"s":"high","v":0.0014},{"t":2016.60,"s":"high","v":0.0032},{"t":2016.62,"s":"high","v":0.0020},
{"t":2016.64,"s":"high","v":0.0026},{"t":2016.66,"s":"high","v":0.0016},{"t":2016.68,"s":"high","v":0.0042},{"t":2016.70,"s":"high","v":0.0020},{"t":2016.72,"s":"high","v":0.0036},{"t":2016.74,"s":"high","v":0.0022},{"t":2016.76,"s":"high","v":0.0032},{"t":2016.78,"s":"high","v":0.0018},{"t":2016.80,"s":"high","v":0.0044},{"t":2016.82,"s":"high","v":0.0022},
{"t":2016.84,"s":"high","v":0.0030},{"t":2016.86,"s":"high","v":0.0042},{"t":2016.88,"s":"high","v":0.0026},{"t":2016.90,"s":"high","v":0.0034},{"t":2016.92,"s":"high","v":0.0022},{"t":2016.94,"s":"high","v":0.0038},{"t":2016.96,"s":"high","v":0.0024},{"t":2016.98,"s":"high","v":0.0040},{"t":2017.00,"s":"high","v":0.0022},{"t":2017.02,"s":"high","v":0.0034},
{"t":2017.04,"s":"high","v":0.0024},{"t":2017.06,"s":"high","v":0.0036},{"t":2017.08,"s":"high","v":0.0016},{"t":2017.10,"s":"high","v":0.0032},{"t":2017.12,"s":"high","v":0.0014},{"t":2017.14,"s":"high","v":0.0024},{"t":2017.16,"s":"high","v":0.0012},{"t":2017.18,"s":"high","v":0.0030},{"t":2017.20,"s":"high","v":0.0010},{"t":2017.22,"s":"high","v":0.0028},
{"t":2017.24,"s":"high","v":0.0022},{"t":2017.26,"s":"high","v":0.0010},{"t":2017.28,"s":"high","v":0.0026},{"t":2017.30,"s":"high","v":0.0018},{"t":2017.32,"s":"high","v":0.0028},{"t":2017.34,"s":"high","v":0.0014},{"t":2017.36,"s":"high","v":0.0026},{"t":2017.38,"s":"high","v":0.0012},{"t":2017.40,"s":"high","v":0.0022},{"t":2017.42,"s":"high","v":0.0016},
{"t":2017.44,"s":"high","v":0.0026},{"t":2017.46,"s":"high","v":0.0020},{"t":2017.48,"s":"high","v":0.0034},{"t":2017.50,"s":"high","v":0.0016},{"t":2017.52,"s":"high","v":0.0026},{"t":2017.54,"s":"high","v":0.0032},{"t":2017.56,"s":"high","v":0.0018},{"t":2017.58,"s":"high","v":0.0036},{"t":2017.60,"s":"high","v":0.0026},{"t":2017.62,"s":"high","v":0.0018},
{"t":2017.64,"s":"high","v":0.0028},{"t":2017.66,"s":"high","v":0.0018},{"t":2017.68,"s":"high","v":0.0034},{"t":2017.70,"s":"high","v":0.0014},{"t":2017.72,"s":"high","v":0.0024},{"t":2017.74,"s":"high","v":0.0030},{"t":2017.76,"s":"high","v":0.0016},{"t":2017.78,"s":"high","v":0.0028},{"t":2017.80,"s":"high","v":0.0012},{"t":2017.82,"s":"high","v":0.0024},
{"t":2017.84,"s":"high","v":0.0014},{"t":2017.86,"s":"high","v":0.0028},{"t":2017.88,"s":"high","v":0.0010},{"t":2017.90,"s":"high","v":0.0024},{"t":2017.92,"s":"high","v":0.0018},{"t":2017.94,"s":"high","v":0.0034},{"t":2017.96,"s":"high","v":0.0014},{"t":2017.98,"s":"high","v":0.0030},{"t":2018.00,"s":"high","v":0.0022},{"t":2018.02,"s":"high","v":0.0038},
{"t":2018.04,"s":"high","v":0.0026},{"t":2018.06,"s":"high","v":0.0038},{"t":2018.08,"s":"high","v":0.0022},{"t":2018.10,"s":"high","v":0.0030},{"t":2018.12,"s":"high","v":0.0046},{"t":2018.14,"s":"high","v":0.0024},{"t":2018.16,"s":"high","v":0.0038},{"t":2018.18,"s":"high","v":0.0026},{"t":2018.20,"s":"high","v":0.0036},{"t":2018.22,"s":"high","v":0.0042},
{"t":2018.24,"s":"high","v":0.0026},{"t":2018.26,"s":"high","v":0.0042},{"t":2018.28,"s":"high","v":0.0032},{"t":2018.30,"s":"high","v":0.0040},{"t":2018.32,"s":"high","v":0.0034},{"t":2018.34,"s":"high","v":0.0048},{"t":2018.36,"s":"high","v":0.0028},{"t":2018.38,"s":"high","v":0.0040},{"t":2018.40,"s":"high","v":0.0050},{"t":2018.42,"s":"high","v":0.0034},
{"t":2018.44,"s":"high","v":0.0046},{"t":2018.46,"s":"high","v":0.0036},{"t":2018.48,"s":"high","v":0.0054},{"t":2018.50,"s":"high","v":0.0024},{"t":2018.52,"s":"high","v":0.0044},{"t":2018.54,"s":"high","v":0.0064},{"t":2018.56,"s":"high","v":0.0058},{"t":2018.58,"s":"high","v":0.0074},{"t":2018.60,"s":"high","v":0.0066},{"t":2018.62,"s":"high","v":0.0076},
{"t":2018.64,"s":"high","v":0.0070},{"t":2018.66,"s":"high","v":0.0088},{"t":2018.68,"s":"high","v":0.0066},{"t":2018.70,"s":"high","v":0.0092},{"t":2018.72,"s":"high","v":0.0080},{"t":2018.74,"s":"high","v":0.0096},{"t":2018.76,"s":"high","v":0.0074},{"t":2018.78,"s":"high","v":0.0106},{"t":2018.80,"s":"high","v":0.0088},{"t":2018.82,"s":"high","v":0.0098},
{"t":2018.84,"s":"high","v":0.0086},{"t":2018.86,"s":"high","v":0.0098},{"t":2018.88,"s":"high","v":0.0082},{"t":2018.90,"s":"high","v":0.0104},{"t":2018.92,"s":"high","v":0.0078},{"t":2018.94,"s":"high","v":0.0090},{"t":2018.96,"s":"high","v":0.0108},{"t":2018.98,"s":"high","v":0.0082},{"t":2019.00,"s":"high","v":0.0102},{"t":2019.02,"s":"high","v":0.0090},
{"t":2019.04,"s":"high","v":0.0094},{"t":2019.06,"s":"high","v":0.0080},{"t":2019.08,"s":"high","v":0.0070},{"t":2019.10,"s":"high","v":0.0082},{"t":2019.12,"s":"high","v":0.0064},{"t":2019.14,"s":"high","v":0.0096},{"t":2019.16,"s":"high","v":0.0058},{"t":2019.18,"s":"high","v":0.0060},{"t":2019.20,"s":"high","v":0.0052},{"t":2019.22,"s":"high","v":0.0044}
],
"boxes": [
{"g":"low","lo":0.0,"q1":0.00472,"med":0.00807,"q3":0.01142,"hi":0.0219},
{"g":"mid","lo":0.0,"q1":0.0023,"med":0.0048,"q3":0.0086,"hi":0.0178},
{"g":"high","lo":0.0,"q1":0.0,"med":0.00239,"q3":0.00517,"hi":0.01263}
],
"outliers": [
{"g":"low","v":0.0400},{"g":"low","v":0.0392},{"g":"low","v":0.0380},{"g":"low","v":0.0345},{"g":"low","v":0.0336},{"g":"low","v":0.0330},{"g":"low","v":0.0322},{"g":"low","v":0.0316},{"g":"low","v":0.0310},{"g":"low","v":0.0304},{"g":"low","v":0.0298},{"g":"low","v":0.0292},{"g":"low","v":0.0286},{"g":"low","v":0.0280},{"g":"low","v":0.0274},{"g":"low","v":0.0268},{"g":"low","v":0.0262},{"g":"low","v":0.0256},{"g":"low","v":0.0250},{"g":"low","v":0.0244},{"g":"low","v":0.0238},{"g":"low","v":0.0233},{"g":"low","v":0.0228},{"g":"low","v":0.0223},
{"g":"mid","v":0.0294},{"g":"mid","v":0.0234},{"g":"mid","v":0.0204},{"g":"mid","v":0.0200},{"g":"mid","v":0.0196},{"g":"mid","v":0.0192},{"g":"mid","v":0.0188},{"g":"mid","v":0.0184},{"g":"mid","v":0.0181},
{"g":"high","v":0.0226},{"g":"high","v":0.0212},{"g":"high","v":0.0208},{"g":"high","v":0.0204},{"g":"high","v":0.0200},{"g":"high","v":0.0196},{"g":"high","v":0.0192},{"g":"high","v":0.0187},{"g":"high","v":0.0182},{"g":"high","v":0.0177},{"g":"high","v":0.0172},{"g":"high","v":0.0166},{"g":"high","v":0.0161},{"g":"high","v":0.0156},{"g":"high","v":0.0151},{"g":"high","v":0.0146},{"g":"high","v":0.0141},{"g":"high","v":0.0136},{"g":"high","v":0.0131}
],
"annot": [{"g":"high","v":0.04,"label":"P < 0.01"}]
},
"hconcat": [
{
  "width": 515, "height": 516,
  "title": {"text": "A"},
  "data": {"name": "scatter"},
  "resolve": {"axis": {"x": "independent"}},
  "encoding": {
    "y": {"field": "v", "type": "quantitative", "scale": {"domain": [-0.00122, 0.02617], "nice": false, "zero": false},
      "axis": {"title": "Fraction with onset of AF ≥1 hour", "titleFontSize": 21, "titlePadding": 10,
        "values": [0, 0.0025, 0.005, 0.0075, 0.01, 0.0125, 0.015, 0.0175, 0.02, 0.0225, 0.025], "format": ".3f",
        "labelExpr": "round(datum.value*10000) % 50 == 0 ? datum.label : ''", "labelFontSize": 18, "labelPadding": 5,
        "tickOpacity": {"condition": {"test": "round(datum.value*10000) % 50 == 0", "value": 1}, "value": 0},
        "gridWidth": {"condition": {"test": "round(datum.value*10000) % 50 == 0", "value": 1.6}, "value": 0.8}}}
  },
  "layer": [
    {"mark": {"type": "point", "opacity": 0, "size": 1},
     "encoding": {
       "x": {"field": "t", "type": "quantitative", "scale": {"domain": [2015.229, 2019.593], "nice": false, "zero": false},
         "axis": {"orient": "bottom", "title": null, "values": [2015.5, 2016.5, 2017.5, 2018.5, 2019.5], "labels": false, "ticks": false, "grid": true, "gridWidth": 0.8}}}},
    {"mark": {"type": "point", "filled": true, "opacity": 0.5, "size": 135, "strokeWidth": 0},
     "encoding": {
       "x": {"field": "t", "type": "quantitative",
         "axis": {"orient": "bottom", "title": null, "values": [2016, 2017, 2018, 2019], "format": "d", "labelFontSize": 24, "labelPadding": 2, "grid": true, "gridWidth": 1.6}},
       "color": {"field": "s", "type": "nominal", "scale": {"domain": ["low", "mid", "high"], "range": ["#ff0000", "#00ff00", "#0000ff"]},
         "legend": {"orient": "none", "legendX": 47, "legendY": 47, "title": null, "labelExpr": "'PA'", "labelFontSize": 26, "labelColor": "#000000",
           "symbolType": "circle", "symbolSize": 130, "symbolOpacity": 0.5, "symbolStrokeWidth": 0, "labelOffset": 33, "rowPadding": 25, "padding": 0}},
       "shape": {"field": "s", "type": "nominal", "sort": ["low", "mid", "high"], "scale": {"range": ["circle", "circle", "circle"]},
         "legend": {"orient": "none", "legendX": 123, "legendY": 58, "title": null, "labelFontSize": 16, "labelColor": "#000000",
           "symbolSize": 1, "symbolOpacity": 0, "symbolStrokeWidth": 0, "labelOffset": 0, "rowPadding": 35, "padding": 0}}
     }}
  ]
},
{
  "width": 550, "height": 516,
  "title": {"text": "B"},
  "layer": [
    {"data": {"name": "boxes"}, "mark": {"type": "rule", "color": "#333333", "strokeWidth": 1.6},
     "encoding": {
       "x": {"field": "g", "type": "nominal", "sort": ["low", "mid", "high"], "scale": {"paddingInner": 0.247, "paddingOuter": 0.204},
         "axis": {"title": null, "labelExpr": "'PA'", "labelAlign": "right", "labelAngle": 0, "labelFontSize": 25, "labelPadding": 2, "grid": true, "gridWidth": 1.6}},
       "y": {"field": "lo", "type": "quantitative", "scale": {"domain": [-0.0022, 0.0472], "nice": false, "zero": false},
         "axis": {"title": null, "values": [0, 0.005, 0.01, 0.015, 0.02, 0.025, 0.03, 0.035, 0.04, 0.045], "format": ".2f",
           "labelExpr": "round(datum.value*1000) % 10 == 0 ? datum.label : ''", "labelFontSize": 17.5, "labelPadding": 7,
           "tickOpacity": {"condition": {"test": "round(datum.value*1000) % 10 == 0", "value": 1}, "value": 0},
           "gridWidth": {"condition": {"test": "round(datum.value*1000) % 10 == 0", "value": 1.6}, "value": 0.8}}},
       "y2": {"field": "hi"}}},
    {"data": {"name": "boxes"}, "mark": {"type": "bar", "stroke": "#333333", "strokeWidth": 1.6},
     "encoding": {
       "x": {"field": "g", "type": "nominal", "sort": ["low", "mid", "high"]},
       "y": {"field": "q1", "type": "quantitative"}, "y2": {"field": "q3"},
       "color": {"field": "g", "type": "nominal", "scale": {"domain": ["low", "mid", "high"], "range": ["#F8766D", "#00BA38", "#619CFF"]}, "legend": null}}},
    {"data": {"name": "boxes"}, "mark": {"type": "tick", "color": "#333333", "thickness": 4, "size": 131, "opacity": 1},
     "encoding": {
       "x": {"field": "g", "type": "nominal", "sort": ["low", "mid", "high"]},
       "y": {"field": "med", "type": "quantitative"}}},
    {"data": {"name": "outliers"}, "mark": {"type": "point", "filled": true, "color": "#333333", "opacity": 1, "size": 113},
     "encoding": {
       "x": {"field": "g", "type": "nominal", "sort": ["low", "mid", "high"]},
       "y": {"field": "v", "type": "quantitative"}}},
    {"data": {"name": "annot"}, "mark": {"type": "point", "shape": "M-1,-0.2972H1V0.2972H-1Z", "filled": true, "color": "#d4d4d4", "opacity": 0.85, "size": 30625, "strokeWidth": 0},
     "encoding": {
       "x": {"field": "g", "type": "nominal", "sort": ["low", "mid", "high"]},
       "y": {"field": "v", "type": "quantitative"}}},
    {"data": {"name": "annot"}, "mark": {"type": "text", "fontSize": 31, "color": "#000000", "baseline": "middle", "align": "center", "dy": 1},
     "encoding": {
       "x": {"field": "g", "type": "nominal", "sort": ["low", "mid", "high"]},
       "y": {"field": "v", "type": "quantitative"},
       "text": {"field": "label"}}},
    {"data": {"name": "boxes"}, "mark": {"type": "text", "fontSize": 17, "color": "#4d4d4d", "align": "left", "baseline": "alphabetic", "dx": 2, "dy": 39},
     "encoding": {
       "x": {"field": "g", "type": "nominal", "sort": ["low", "mid", "high"]},
       "y": {"datum": -0.0022, "type": "quantitative"},
       "text": {"field": "g"}}}
  ]
}
]
}
